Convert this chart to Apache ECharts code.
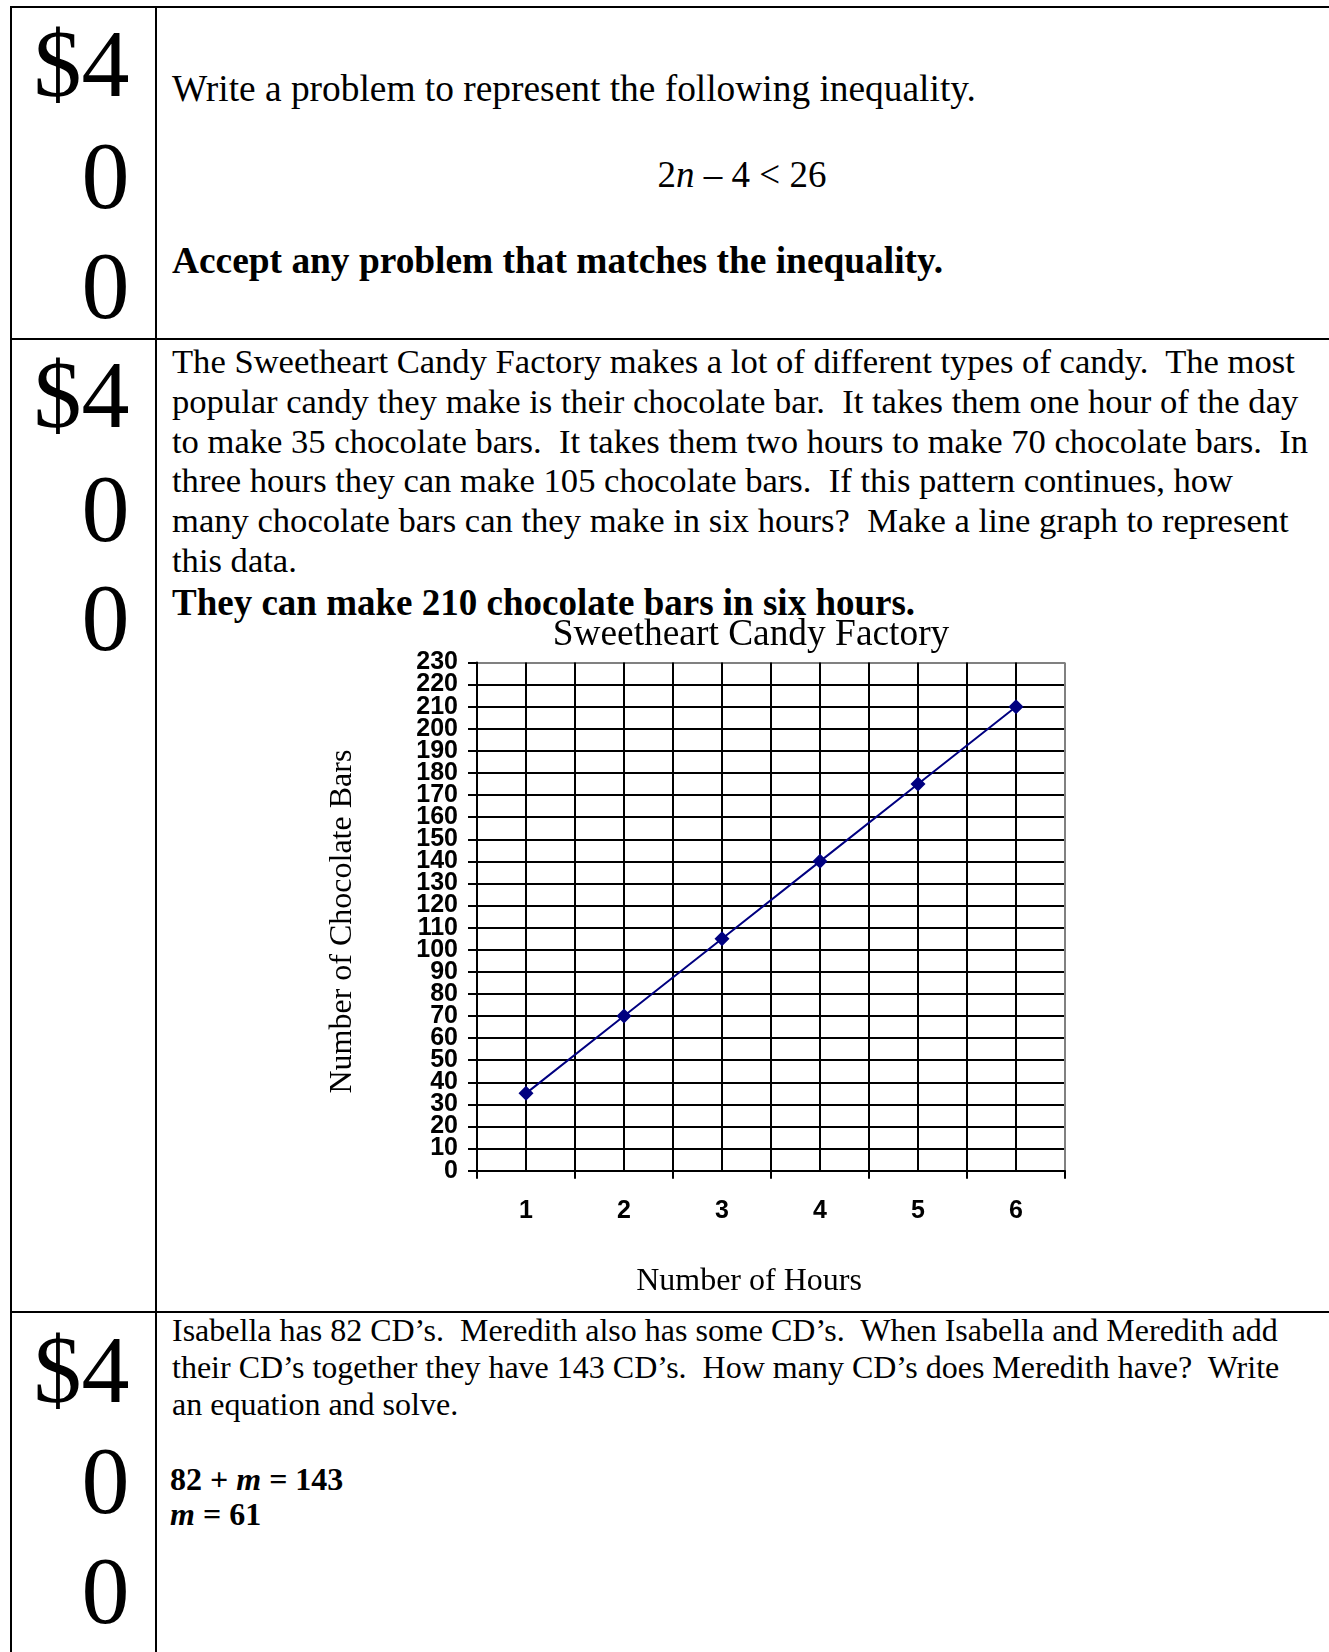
<!DOCTYPE html>
<html>
<head>
<meta charset="utf-8">
<script src="https://cdn.jsdelivr.net/npm/echarts@6/dist/echarts.min.js"></script>
<style>
  html, body { margin: 0; padding: 0; background: #fff; }
  body { width: 1329px; height: 1652px; position: relative; overflow: hidden; }
  .t { position: absolute; white-space: pre; font-family: "Liberation Serif", "Times New Roman", serif; color: #000; }
  .s374 { font-size: 37.4px; line-height: 37.4px; }
  .s37 { font-size: 37px; line-height: 37px; }
  .s346 { font-size: 34.6px; line-height: 34.6px; }
  .s32 { font-size: 32px; line-height: 32px; }
  .big { font-size: 96px; line-height: 96px; right: 1199.5px; text-align: right; }
  .b { font-weight: bold; }
  .hl { position: absolute; background: #000; }
  #chart { position: absolute; left: 300px; top: 600px; width: 820px; height: 705px; background: transparent; }
</style>
</head>
<body>
<!-- table rules -->
<div class="hl" style="left:9.5px; top:6px; width:1320px; height:2px;"></div>
<div class="hl" style="left:9.5px; top:6px; width:2px; height:1646px;"></div>
<div class="hl" style="left:155px; top:6px; width:2px; height:1646px;"></div>
<div class="hl" style="left:9.5px; top:338px; width:1320px; height:2px;"></div>
<div class="hl" style="left:9.5px; top:1311px; width:1320px; height:2px;"></div>

<!-- left column values -->
<div class="t big" style="top:16.3px;">$4</div>
<div class="t big" style="top:127.9px;">0</div>
<div class="t big" style="top:237.9px;">0</div>
<div class="t big" style="top:346.6px;">$4</div>
<div class="t big" style="top:460.6px;">0</div>
<div class="t big" style="top:569.6px;">0</div>
<div class="t big" style="top:1321.6px;">$4</div>
<div class="t big" style="top:1432.6px;">0</div>
<div class="t big" style="top:1542.6px;">0</div>

<!-- row 1 -->
<div class="t s374" style="left:172px; top:70px;">Write a problem to represent the following inequality.</div>
<div class="t s37" style="left:542px; width:400px; text-align:center; top:156px;">2<i>n</i> – 4 &lt; 26</div>
<div class="t s374 b" style="left:172px; top:241.7px;">Accept any problem that matches the inequality.</div>

<!-- row 2 -->
<div class="t s346" style="left:172px; top:344px;">The Sweetheart Candy Factory makes a lot of different types of candy.  The most</div>
<div class="t s346" style="left:172px; top:383.8px;">popular candy they make is their chocolate bar.  It takes them one hour of the day</div>
<div class="t s346" style="left:172px; top:423.5px;">to make 35 chocolate bars.  It takes them two hours to make 70 chocolate bars.  In</div>
<div class="t s346" style="left:172px; top:463.3px;">three hours they can make 105 chocolate bars.  If this pattern continues, how</div>
<div class="t s346" style="left:172px; top:503.1px;">many chocolate bars can they make in six hours?  Make a line graph to represent</div>
<div class="t s346" style="left:172px; top:542.9px;">this data.</div>
<div class="t s37 b" style="left:172px; top:584px;">They can make 210 chocolate bars in six hours.</div>

<!-- row 3 -->
<div class="t s32" style="left:172px; top:1314.2px;">Isabella has 82 CD’s.  Meredith also has some CD’s.  When Isabella and Meredith add</div>
<div class="t s32" style="left:172px; top:1351.1px;">their CD’s together they have 143 CD’s.  How many CD’s does Meredith have?  Write</div>
<div class="t s32" style="left:172px; top:1388px;">an equation and solve.</div>
<div class="t s32 b" style="left:170px; top:1462.7px;">82 + <i>m</i> = 143</div>
<div class="t s32 b" style="left:170px; top:1498.2px;"><i>m</i> = 61</div>

<div id="chart"></div>

<script>
// ---- data ----
const hours = ['1', '2', '3', '4', '5', '6'];
const chocolateBars = [35, 70, 105, 140, 175, 210];
const yMin = 0;
const yMax = 230;
const yStep = 10;
const chartTitle = 'Sweetheart Candy Factory';
const xName = 'Number of Hours';
const yName = 'Number of Chocolate Bars';

// ---- chart ----
const chart = echarts.init(document.getElementById('chart'), null, { renderer: 'canvas' });
const ySplitCount = Math.round((yMax - yMin) / yStep) + 1;
const ySplitColors = [];
for (let i = 0; i < ySplitCount; i++) ySplitColors.push(i === ySplitCount - 1 ? '#808080' : '#000000');
const xSplitCount = hours.length * 2 + 1;
const xSplitColors = [];
for (let i = 0; i < xSplitCount; i++) xSplitColors.push(i === xSplitCount - 1 ? '#808080' : '#000000');

const serif = '"Liberation Serif", "Times New Roman", serif';
const sans = '"Liberation Sans", Arial, sans-serif';
const yLabelStyle = { fontFamily: sans, fontSize: 25, fontWeight: 'bold', color: '#000' };

chart.setOption({
  animation: false,
  backgroundColor: 'transparent',
  title: {
    text: chartTitle,
    left: 451,
    top: 17,
    textAlign: 'center',
    padding: 0,
    textStyle: { fontFamily: serif, fontSize: 37.4, fontWeight: 'normal', color: '#000' }
  },
  grid: {
    left: 177,
    top: 62.5,
    width: 588,
    height: 508.2,
    containLabel: false,
    outerBoundsMode: 'none',
    show: false
  },
  xAxis: [
    {
      type: 'category',
      data: hours,
      boundaryGap: true,
      position: 'bottom',
      name: xName,
      nameLocation: 'middle',
      nameGap: 94.5,
      nameTextStyle: { fontFamily: serif, fontSize: 32, color: '#000', padding: [0, 44, 0, 0] },
      axisLine: { show: true, lineStyle: { color: '#000', width: 2 } },
      axisTick: { show: true, length: 8, lineStyle: { color: '#000', width: 2 } },
      axisLabel: {
        show: true, margin: 28, interval: 0,
        fontFamily: sans, fontSize: 25, fontWeight: 'bold', color: '#000'
      },
      splitLine: { show: false }
    },
    {
      type: 'value',
      min: 0.5,
      max: 6.5,
      interval: 0.5,
      position: 'bottom',
      axisLine: { show: false },
      axisTick: { show: false },
      axisLabel: { show: false },
      splitLine: { show: true, lineStyle: { color: xSplitColors, width: 2 } }
    }
  ],
  yAxis: [
    {
      type: 'value',
      min: yMin,
      max: yMax,
      interval: yStep,
      position: 'left',
      name: yName,
      nameLocation: 'middle',
      nameGap: 118,
      nameTextStyle: { fontFamily: serif, fontSize: 32, color: '#000', padding: [0, 10, 0, 0] },
      axisLine: { show: true, lineStyle: { color: '#000', width: 2 } },
      axisTick: { show: true, length: 9, lineStyle: { color: '#000', width: 2 } },
      axisLabel: Object.assign({ show: true, margin: 19, hideOverlap: false, showMinLabel: false, showMaxLabel: false }, yLabelStyle),
      splitLine: { show: true, lineStyle: { color: ySplitColors, width: 2 } }
    },
    {
      // carries the end labels (min / max) so the packed inner labels are not dropped
      type: 'value',
      min: yMin,
      max: yMax,
      interval: yMax - yMin,
      position: 'left',
      offset: 0,
      axisLine: { show: false },
      axisTick: { show: true, length: 9, lineStyle: { color: '#000', width: 2 } },
      axisLabel: Object.assign({ show: true, margin: 19, hideOverlap: false, showMinLabel: true, showMaxLabel: true }, yLabelStyle),
      splitLine: { show: false }
    }
  ],
  series: [{
    type: 'line',
    xAxisIndex: 0,
    yAxisIndex: 0,
    data: chocolateBars,
    symbol: 'diamond',
    symbolSize: 15,
    lineStyle: { color: '#000080', width: 2 },
    itemStyle: { color: '#000080' },
    emphasis: { disabled: true },
    z: 5
  }]
});
</script>
</body>
</html>
